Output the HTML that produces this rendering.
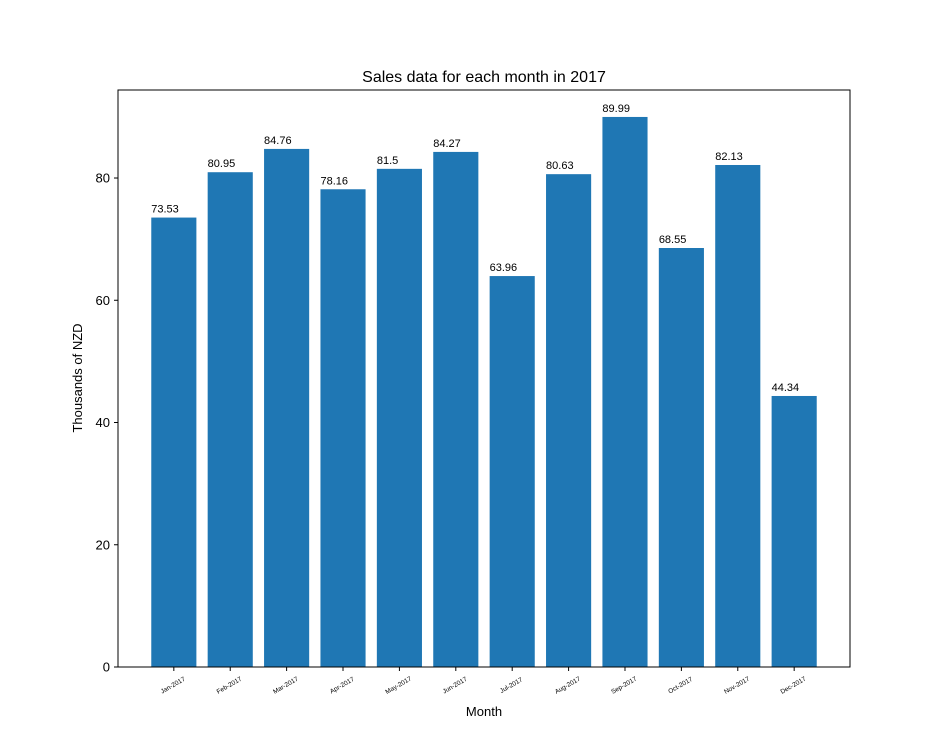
<!DOCTYPE html>
<html><head><meta charset="utf-8"><style>body{margin:0;background:#fff}svg{display:block;font-family:"Liberation Sans","DejaVu Sans",sans-serif}</style></head>
<body>
<svg id="chart" width="944" height="749" xmlns="http://www.w3.org/2000/svg">
<rect width="944" height="749" fill="#fff"/>
<text x="484" y="82" font-size="16" text-anchor="middle">Sales data for each month in 2017</text>
<text x="484" y="716" font-size="13" text-anchor="middle">Month</text>
<text transform="translate(82,378) rotate(-90)" font-size="13" text-anchor="middle">Thousands of NZD</text>
<g id="bars"></g><g id="axes"></g>
</svg>
<script>
const categories=["Jan-2017","Feb-2017","Mar-2017","Apr-2017","May-2017","Jun-2017","Jul-2017","Aug-2017","Sep-2017","Oct-2017","Nov-2017","Dec-2017"];
const values=[73.53,80.95,84.76,78.16,81.5,84.27,63.96,80.63,89.99,68.55,82.13,44.34];
const yTicks=[0,20,40,60,80];
const L=118,R=850,T=90,B=667;
const xmin=-0.99,xmax=11.99,ymax=94.4;
const xs=i=>L+(i-xmin)/(xmax-xmin)*(R-L);
const ys=v=>B-v/ymax*(B-T);
const NS="http://www.w3.org/2000/svg";
function mk(tag,attrs,parent,txt){const e=document.createElementNS(NS,tag);for(const k in attrs)e.setAttribute(k,attrs[k]);if(txt!==undefined)e.textContent=txt;parent.appendChild(e);return e;}
const bars=document.getElementById('bars'),axes=document.getElementById('axes');
const bw=0.8*(R-L)/(xmax-xmin);
values.forEach((v,i)=>{
const c=xs(i);
const r=mk('rect',{x:c-bw/2,y:ys(v),width:bw,height:B-ys(v),fill:'#1f77b4'},bars);


const t=mk('text',{x:c-bw/2,y:ys(v)-5,'font-size':'11'},bars,String(v));


mk('line',{x1:c,x2:c,y1:B,y2:B+4,stroke:'#000','stroke-width':1},axes);
const xl=mk('text',{transform:`translate(${c},${B+20}) rotate(-30)`,'font-size':'6.5','text-anchor':'middle'},axes,categories[i]);


});
yTicks.forEach(v=>{
const y=ys(v);
mk('line',{x1:L-4,x2:L,y1:y,y2:y,stroke:'#000','stroke-width':1},axes);
const yl=mk('text',{x:L-8,y:y+4.5,'font-size':'13','text-anchor':'end'},axes,String(v));


});
const f=mk('rect',{x:L,y:T,width:R-L,height:B-T,fill:'none',stroke:'#000','stroke-width':1},axes);


</script>
</body></html>
